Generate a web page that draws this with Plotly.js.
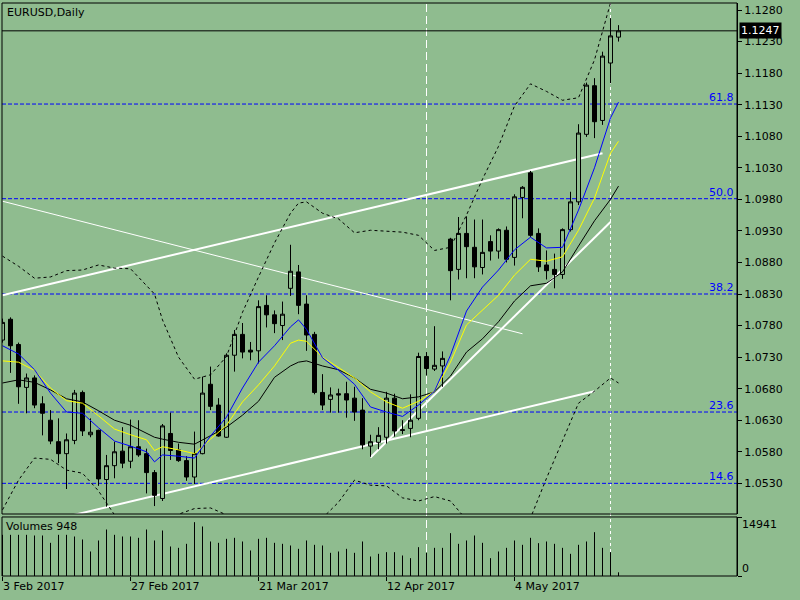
<!DOCTYPE html>
<html><head><meta charset="utf-8">
<script src="https://cdn.plot.ly/plotly-3.0.1.min.js"></script>
<style>html,body{margin:0;padding:0;background:#8fbc8f;}#chart{width:800px;height:600px;}</style>
</head><body><div id="chart"></div>
<script>
// ---------- DATA ----------
const symbolTitle = 'EURUSD,Daily';
const dateLabels = ['3 Feb 2017', '27 Feb 2017', '21 Mar 2017', '12 Apr 2017', '4 May 2017'];
const dateIdx = [0, 16, 32, 48, 64];

const open = [1.0757,1.0790,1.0750,1.0682,1.0697,1.0656,1.0630,1.0596,1.0577,1.0598,
1.0674,1.0607,1.0614,1.0536,1.0558,1.0581,1.0565,1.0588,1.0577,1.0547,
1.0506,1.0609,1.0583,1.0566,1.0540,1.0577,1.0687,1.0654,1.0603,1.0733,
1.0766,1.0741,1.0740,1.0812,1.0797,1.0780,1.0839,1.0865,1.0814,1.0766,
1.0674,1.0663,1.0672,1.0672,1.0665,1.0646,1.0589,1.0595,1.0603,1.0665,
1.0615,1.0617,1.0633,1.0731,1.0711,1.0716,1.0917,1.0869,1.0926,1.0904,
1.0872,1.0913,1.0898,1.0931,1.0888,1.0983,1.1022,1.0926,1.0876,1.0869,
1.0861,1.0932,1.0976,1.1083,1.1160,1.1105,1.1196,1.1237];
const high = [1.0791,1.0793,1.0753,1.0704,1.0701,1.0668,1.0646,1.0633,1.0609,1.0678,
1.0677,1.0633,1.0615,1.0575,1.0596,1.0619,1.0631,1.0630,1.0585,1.0551,
1.0624,1.0642,1.0593,1.0573,1.0612,1.0699,1.0715,1.0665,1.0736,1.0773,
1.0784,1.0754,1.0820,1.0828,1.0804,1.0818,1.0908,1.0876,1.0828,1.0770,
1.0703,1.0682,1.0680,1.0691,1.0683,1.0665,1.0607,1.0619,1.0675,1.0672,
1.0630,1.0671,1.0737,1.0738,1.0779,1.0739,1.0919,1.0952,1.0953,1.0948,
1.0948,1.0923,1.0934,1.0937,1.0988,1.1001,1.1025,1.0934,1.0899,1.0894,
1.0934,1.0992,1.1099,1.1165,1.1172,1.1214,1.1267,1.1256];
const low = [1.0753,1.0705,1.0656,1.0641,1.0649,1.0606,1.0592,1.0562,1.0521,1.0592,
1.0605,1.0603,1.0526,1.0493,1.0538,1.0554,1.0554,1.0572,1.0514,1.0494,
1.0502,1.0567,1.0564,1.0534,1.0529,1.0576,1.0646,1.0604,1.0602,1.0707,
1.0728,1.0725,1.0720,1.0777,1.0768,1.0757,1.0827,1.0798,1.0740,1.0671,
1.0646,1.0642,1.0642,1.0634,1.0629,1.0584,1.0572,1.0584,1.0593,1.0604,
1.0608,1.0603,1.0630,1.0701,1.0708,1.0683,1.0820,1.0853,1.0855,1.0855,
1.0861,1.0883,1.0886,1.0880,1.0875,1.0950,1.0920,1.0865,1.0853,1.0839,
1.0854,1.0929,1.0971,1.1079,1.1077,1.1098,1.1164,1.1230];
const close = [1.0785,1.0748,1.0683,1.0697,1.0654,1.0641,1.0597,1.0577,1.0599,1.0673,
1.0613,1.0611,1.0537,1.0558,1.0580,1.0562,1.0588,1.0575,1.0547,1.0511,
1.0621,1.0582,1.0566,1.0540,1.0577,1.0673,1.0652,1.0605,1.0733,1.0766,
1.0738,1.0738,1.0810,1.0797,1.0783,1.0798,1.0866,1.0812,1.0765,1.0674,
1.0654,1.0670,1.0670,1.0662,1.0643,1.0591,1.0596,1.0606,1.0665,1.0613,
1.0614,1.0630,1.0731,1.0712,1.0717,1.0728,1.0867,1.0926,1.0905,1.0873,
1.0896,1.0898,1.0932,1.0885,1.0984,1.0999,1.0923,1.0873,1.0867,1.0861,
1.0932,1.0976,1.1085,1.1161,1.1103,1.1207,1.1239,1.1247];
const volumes = [10605,10605,10605,10605,10433,10433,8544,10605,10605,10175,
9402,6311,9145,11978,10605,10175,10175,9832,11978,9145,
11721,7599,7256,8287,13867,12751,8887,8544,9575,9832,
8887,6569,9575,9832,8544,8287,7857,6999,9145,8029,
7857,5969,6311,6999,5969,8887,5023,5711,6139,6139,
5281,4593,7428,5969,7256,7256,11033,8287,9145,10433,
8544,4593,6311,7256,9145,8029,9832,8457,8887,8287,
7256,5711,8029,8887,11291,7256,6139,948];
const volumeMaxLabel = 14941;
const lastVolume = 948;
const lastPrice = 1.1247;

// indicator readings (bar index -> value)
const maIdx = [0,2,4,6,8,10,12,14,16,18,19,20,22,24,26,28,30,32,34,36,37,38,40,42,44,46,48,50,52,54,56,58,60,62,64,66,68,70,72,74,76,77];
const maFast = [1.0748,1.0735,1.0710,1.0673,1.0643,1.0641,1.0618,1.0597,1.0589,1.0580,1.0564,1.0575,1.0573,1.0570,1.0605,1.0635,1.0681,1.0722,1.0748,1.0778,1.0789,1.0774,1.0729,1.0709,1.0687,1.0651,1.0643,1.0636,1.0654,1.0676,1.0733,1.0803,1.0841,1.0868,1.0900,1.0920,1.0903,1.0904,1.0963,1.1030,1.1109,1.1134];
const maMid = [1.0724,1.0722,1.0709,1.0681,1.0661,1.0657,1.0637,1.0616,1.0607,1.0599,1.0582,1.0588,1.0583,1.0577,1.0600,1.0622,1.0659,1.0686,1.0716,1.0752,1.0757,1.0755,1.0730,1.0713,1.0697,1.0675,1.0659,1.0649,1.0660,1.0676,1.0722,1.0781,1.0805,1.0828,1.0860,1.0885,1.0882,1.0889,1.0931,1.0982,1.1053,1.1072];
const maSlow = [1.0689,1.0694,1.0690,1.0678,1.0664,1.0659,1.0645,1.0630,1.0622,1.0610,1.0603,1.0600,1.0595,1.0592,1.0605,1.0619,1.0638,1.0660,1.0698,1.0716,1.0722,1.0724,1.0716,1.0710,1.0697,1.0679,1.0673,1.0664,1.0667,1.0675,1.0700,1.0738,1.0759,1.0786,1.0819,1.0843,1.0847,1.0865,1.0906,1.0946,1.0980,1.1001];
const bandUpper = [1.0890,1.0874,1.0855,1.0857,1.0867,1.0868,1.0876,1.0871,1.0870,1.0843,1.0830,1.0789,1.0730,1.0695,1.0702,1.0731,1.0801,1.0857,1.0911,1.0958,1.0974,1.0976,1.0958,1.0949,1.0927,1.0931,1.0930,1.0928,1.0923,1.0899,1.0904,1.0955,1.1012,1.1064,1.1128,1.1163,1.1151,1.1137,1.1141,1.1201,1.1291,1.1308];
const bandLower = [1.0488,1.0535,1.0570,1.0568,1.0551,1.0546,1.0518,1.0480,1.0456,1.0448,1.0448,1.0456,1.0481,1.0490,1.0491,1.0480,1.0460,1.0456,1.0456,1.0460,1.0464,1.0469,1.0475,1.0500,1.0535,1.0527,1.0526,1.0507,1.0502,1.0509,1.0502,1.0472,1.0460,1.0453,1.0456,1.0475,1.0538,1.0599,1.0657,1.0676,1.0697,1.0689];

// fibonacci levels
const fibLabels = ['61.8', '50.0', '38.2', '23.6', '14.6'];
const fibValues = [1.1131, 1.0981, 1.0830, 1.0643, 1.0530];

// trend lines: start/end bar index and price
const trendStartIdx = [0, 0, 0, 46];
const trendStartPx  = [1.0828, 1.0453, 1.0977, 1.0571];
const trendEndIdx   = [75, 74, 65, 76];
const trendEndPx    = [1.1053, 1.0676, 1.0767, 1.0944];
const trendWidth    = [2, 2, 1, 2];

// vertical lines
const vlineIdx = [53, 76];
const vlineDash = ['8px,4px', '3px,3px'];

// ---------- BUILD ----------
const BG = '#8fbc8f';
const FONT = 'DejaVu Sans, Verdana, sans-serif';
const barIdx = open.map((_, i) => i);

const volX = [], volY = [];
volumes.forEach((v, i) => { volX.push(i, i, null); volY.push(0, v, null); });

const traces = [
  {type:'candlestick', x:barIdx, open:open, high:high, low:low, close:close,
   xaxis:'x', yaxis:'y', whiskerwidth:0, hoverinfo:'skip',
   increasing:{line:{color:'#000', width:1}, fillcolor:BG},
   decreasing:{line:{color:'#000', width:1}, fillcolor:'#000'}},
  {type:'scatter', mode:'lines', x:maIdx, y:bandUpper, xaxis:'x', yaxis:'y', line:{color:'#000', width:1, dash:'3px,3px'}, hoverinfo:'skip'},
  {type:'scatter', mode:'lines', x:maIdx, y:bandLower, xaxis:'x', yaxis:'y', line:{color:'#000', width:1, dash:'3px,3px'}, hoverinfo:'skip'},
  {type:'scatter', mode:'lines', x:maIdx, y:maSlow, xaxis:'x', yaxis:'y', line:{color:'#000', width:1}, hoverinfo:'skip'},
  {type:'scatter', mode:'lines', x:maIdx, y:maMid, xaxis:'x', yaxis:'y', line:{color:'#ffff00', width:1}, hoverinfo:'skip'},
  {type:'scatter', mode:'lines', x:maIdx, y:maFast, xaxis:'x', yaxis:'y', line:{color:'#0000ff', width:1}, hoverinfo:'skip'},
  {type:'scatter', mode:'lines', x:volX, y:volY, xaxis:'x', yaxis:'y2', line:{color:'#000', width:1}, connectgaps:false, hoverinfo:'skip'}
];

const shapes = [];
vlineIdx.forEach((k, i) => shapes.push({type:'line', xref:'x', yref:'paper', x0:k, x1:k, y0:0, y1:1, layer:'below', line:{color:'#fff', width:1, dash:vlineDash[i]}}));
fibValues.forEach(v => shapes.push({type:'line', xref:'x domain', yref:'y', x0:0, x1:1, y0:v, y1:v, layer:'below', line:{color:'#0000ff', width:1, dash:'4px,2px'}}));
trendStartIdx.forEach((k, i) => shapes.push({type:'line', xref:'x', yref:'y', x0:k, y0:trendStartPx[i], x1:trendEndIdx[i], y1:trendEndPx[i], layer:'below', line:{color:'#fff', width:trendWidth[i]}}));
shapes.push({type:'line', xref:'x domain', yref:'y', x0:0, x1:1, y0:lastPrice, y1:lastPrice, layer:'below', line:{color:'#000', width:1}});
shapes.push({type:'rect', xref:'x domain', yref:'y domain', x0:0, x1:1, y0:0, y1:1, line:{color:'#000', width:1}, fillcolor:'rgba(0,0,0,0)'});
shapes.push({type:'rect', xref:'x domain', yref:'y2 domain', x0:0, x1:1, y0:0, y1:1, line:{color:'#000', width:1}, fillcolor:'rgba(0,0,0,0)'});

const annotations = [];
annotations.push({xref:'x domain', yref:'y domain', x:0, y:1, xanchor:'left', yanchor:'top', xshift:3, yshift:-1, text:symbolTitle, showarrow:false, font:{family:FONT, size:11, color:'#000'}});
annotations.push({xref:'x domain', yref:'y2 domain', x:0, y:1, xanchor:'left', yanchor:'top', xshift:2, yshift:-1, text:'Volumes ' + lastVolume, showarrow:false, font:{family:FONT, size:11, color:'#000'}});
fibLabels.forEach((t, i) => annotations.push({xref:'x domain', yref:'y', x:1, y:fibValues[i], xanchor:'right', yanchor:'bottom', xshift:-1, yshift:-2, text:t, showarrow:false, font:{family:FONT, size:11, color:'#0000ff'}}));
dateLabels.forEach((t, i) => annotations.push({xref:'x', yref:'y2 domain', x:dateIdx[i], y:0, xanchor:'left', yanchor:'top', xshift:-2, yshift:-2, text:t, showarrow:false, font:{family:FONT, size:11, color:'#000'}}));
annotations.push({xref:'x domain', yref:'y2', x:1, y:volumeMaxLabel, xanchor:'left', yanchor:'top', xshift:3, yshift:2, text:String(volumeMaxLabel), showarrow:false, font:{family:FONT, size:11, color:'#000'}});
annotations.push({xref:'x domain', yref:'y2', x:1, y:0, xanchor:'left', yanchor:'bottom', xshift:3, yshift:-1, text:'0', showarrow:false, font:{family:FONT, size:11, color:'#000'}});
annotations.push({xref:'x domain', yref:'y', x:1, y:lastPrice, xanchor:'left', yanchor:'middle', xshift:2, text:lastPrice.toFixed(4), showarrow:false, bgcolor:'#000', borderpad:1, font:{family:FONT, size:11, color:'#fff'}});

const layout = {
  width:800, height:600,
  paper_bgcolor:BG, plot_bgcolor:BG,
  margin:{l:2, r:63, t:3, b:24, pad:0},
  showlegend:false,
  font:{family:FONT, size:11, color:'#000'},
  boxgap:0.5, boxgroupgap:0,
  xaxis:{range:[-0.0625, 91.8125], anchor:'y2', showgrid:false, zeroline:false, showline:false,
         tickmode:'array', tickvals:dateIdx, showticklabels:false, ticks:'outside', ticklen:4, tickcolor:'#000',
         rangeslider:{visible:false}, fixedrange:true},
  yaxis:{domain:[0.1082, 1], range:[1.04814, 1.12911], side:'right', anchor:'x', showgrid:false, zeroline:false,
         tickmode:'linear', tick0:1.053, dtick:0.005, tickformat:'.4f', ticks:'outside', ticklen:4, tickcolor:'#000',
         showline:true, linecolor:'#000', linewidth:1, tickfont:{family:FONT, size:11, color:'#000'}},
  yaxis2:{domain:[0, 0.103], range:[0, 15200], side:'right', anchor:'x', showgrid:false, zeroline:false,
          tickmode:'array', tickvals:[0, volumeMaxLabel], showticklabels:false, ticks:'outside', ticklen:4, tickcolor:'#000',
          showline:true, linecolor:'#000', linewidth:1},
  shapes:shapes,
  annotations:annotations
};

Plotly.newPlot('chart', traces, layout, {staticPlot:true, displayModeBar:false});
</script>
</body></html>
